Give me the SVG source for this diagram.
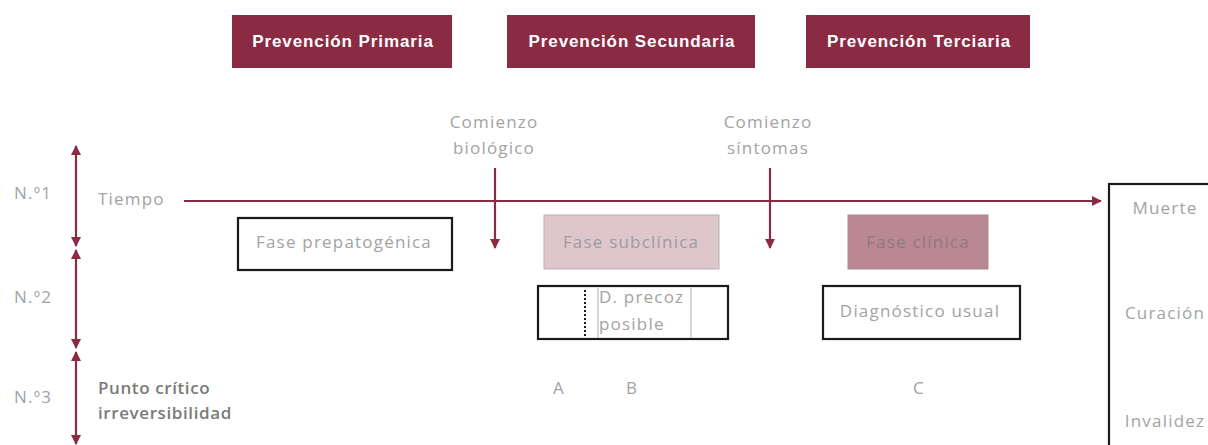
<svg xmlns="http://www.w3.org/2000/svg" width="1208" height="445" viewBox="0 0 1208 445">
<defs>
<marker id="ah" viewBox="0 0 10 10" refX="9" refY="5" markerWidth="10" markerHeight="10" markerUnits="userSpaceOnUse" orient="auto-start-reverse">
<path d="M0,0 L10,5 L0,10 z" fill="#8a2b43"/>
</marker>
</defs>
<style>
.hdr{fill:#8a2b43;}
.ht{font-family:"Liberation Sans",Arial,sans-serif;font-size:17px;font-weight:bold;fill:#ffffff;text-anchor:middle;letter-spacing:0.9px;}
.t{font-family:"Open Sans","Liberation Sans",sans-serif;font-size:17px;fill:#a3a3a3;letter-spacing:1.2px;}
.tc{text-anchor:middle;}
.box{fill:#ffffff;stroke:#1a1a1a;stroke-width:2.2;}
.ln{stroke:#8a2b43;stroke-width:2.2;fill:none;}
.bold{font-weight:600;fill:#7a7a7a;letter-spacing:0.6px;}
</style>
<rect width="1208" height="445" fill="#ffffff"/>

<g id="hdr-primaria"><rect class="hdr" x="232" y="15" width="220" height="53"/><text class="ht" x="343" y="47">Prevención Primaria</text></g>
<g id="hdr-secundaria"><rect class="hdr" x="507" y="15" width="248" height="53"/><text class="ht" x="632" y="47">Prevención Secundaria</text></g>
<g id="hdr-terciaria"><rect class="hdr" x="806" y="15" width="224" height="53"/><text class="ht" x="919" y="47">Prevención Terciaria</text></g>

<g id="labels-niveles">
<text class="t" x="14" y="199">N.º1</text>
<text class="t" x="14" y="303">N.º2</text>
<text class="t" x="14" y="403">N.º3</text>
<text class="t" x="98" y="205">Tiempo</text>
</g>

<g id="punto-critico"><text class="t bold" x="98" y="394">Punto crítico</text><text class="t bold" x="98" y="419">irreversibilidad</text></g>

<g id="comienzo-biologico"><text class="t tc" x="494" y="128">Comienzo</text><text class="t tc" x="494" y="154">biológico</text></g>
<g id="comienzo-sintomas"><text class="t tc" x="768" y="128">Comienzo</text><text class="t tc" x="768" y="154">síntomas</text></g>

<g id="fase-prepatogenica"><rect class="box" x="238" y="218" width="214" height="52"/><text class="t tc" x="344" y="248">Fase prepatogénica</text></g>
<g id="fase-subclinica"><rect x="544" y="215" width="175" height="54" fill="#dfc6cc" stroke="#b8b0b2" stroke-width="1"/><text class="t tc" x="631" y="248" style="fill:#9c9c9c">Fase subclínica</text></g>
<g id="fase-clinica"><rect x="848" y="215" width="140" height="54" fill="#b98893" stroke="#a98a90" stroke-width="1"/><text class="t tc" x="918" y="248" style="fill:#8f7a7e">Fase clínica</text></g>

<g id="d-precoz">
<rect class="box" x="538" y="286" width="190" height="53"/>
<line x1="585" y1="290" x2="585" y2="336" stroke="#1a1a1a" stroke-width="2" stroke-dasharray="2,2"/>
<line x1="598" y1="288" x2="598" y2="338" stroke="#b0b0b0" stroke-width="1"/>
<line x1="691" y1="288" x2="691" y2="338" stroke="#b0b0b0" stroke-width="1"/>
<text class="t" x="599" y="303">D. precoz</text>
<text class="t" x="599" y="330">posible</text>
</g>

<g id="diagnostico-usual"><rect class="box" x="823" y="286" width="197" height="53"/><text class="t tc" x="920" y="317">Diagnóstico usual</text></g>

<g id="letras">
<text class="t tc" x="559" y="394">A</text>
<text class="t tc" x="632" y="394">B</text>
<text class="t tc" x="919" y="394">C</text>
</g>

<g id="desenlaces">
<rect x="1109" y="184" width="110" height="280" fill="#ffffff" stroke="#1a1a1a" stroke-width="2.2"/>
<text class="t tc" x="1165" y="214">Muerte</text>
<text class="t tc" x="1165" y="319">Curación</text>
<text class="t tc" x="1165" y="427">Invalidez</text>
</g>

<g id="connectors">
<line class="ln" x1="184" y1="201" x2="1101" y2="201" marker-end="url(#ah)"/>
<line class="ln" x1="495" y1="168" x2="495" y2="248" marker-end="url(#ah)"/>
<line class="ln" x1="770" y1="168" x2="770" y2="248" marker-end="url(#ah)"/>
<line class="ln" x1="76" y1="146" x2="76" y2="246" marker-start="url(#ah)" marker-end="url(#ah)"/>
<line class="ln" x1="76" y1="250" x2="76" y2="348" marker-start="url(#ah)" marker-end="url(#ah)"/>
<line class="ln" x1="76" y1="352" x2="76" y2="444" marker-start="url(#ah)" marker-end="url(#ah)"/>
</g>
</svg>
